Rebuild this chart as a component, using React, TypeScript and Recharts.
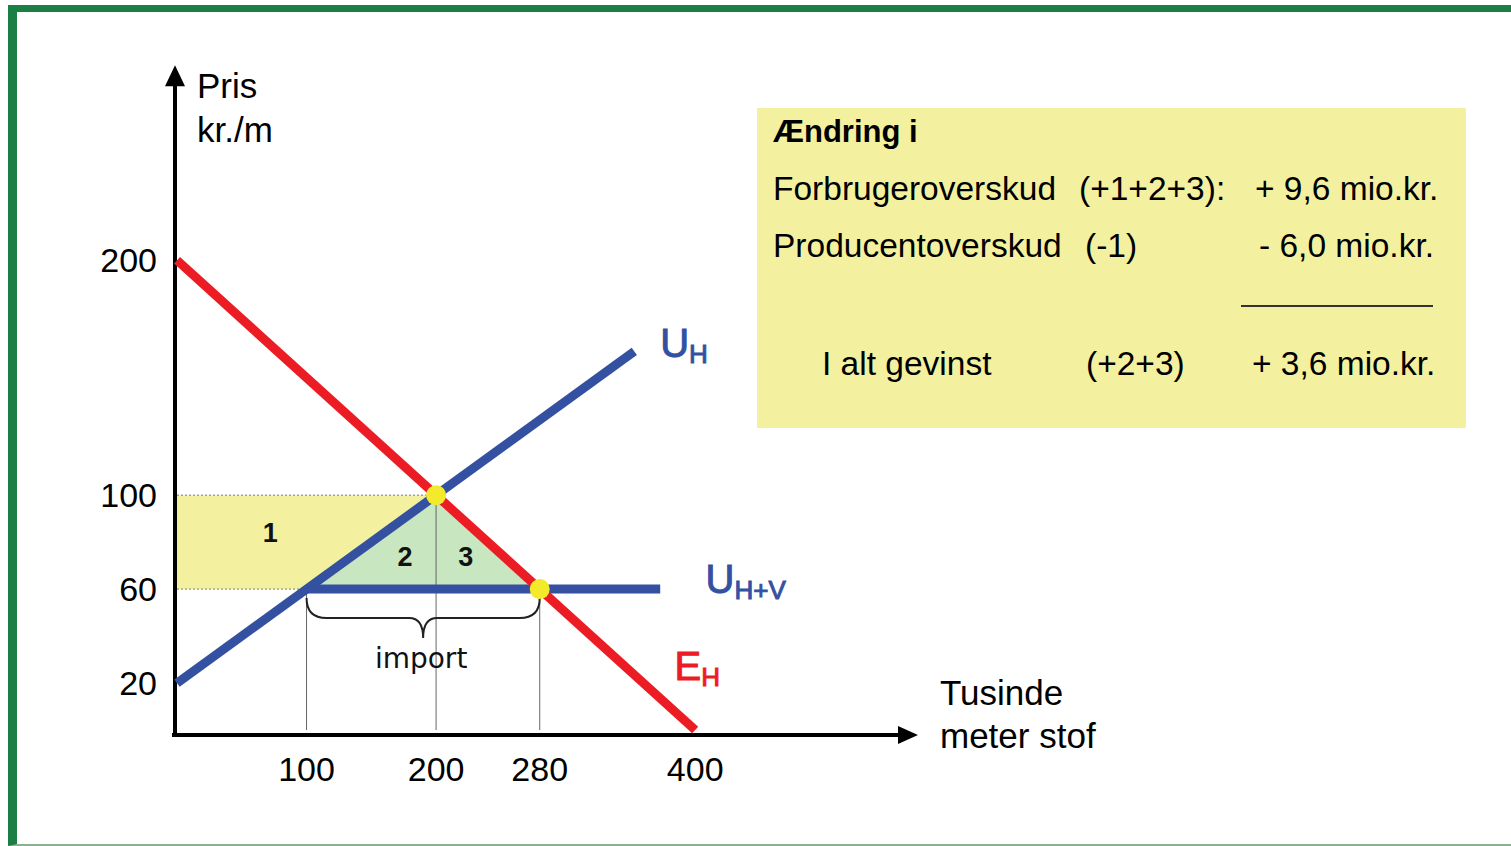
import React from "react";
import { ComposedChart, XAxis, YAxis, Line, Area, Scatter, ReferenceLine, ReferenceDot } from "recharts";

const FONT = '"Liberation Sans", Arial, Helvetica, sans-serif';
const RED = "#ec1c24";
const BLUE = "#3451a1";
const YELLOW_FILL = "#f3f19f";
const GREEN_FILL = "#c8e6c0";
const DOT_YELLOW = "#f2ea2a";
const FRAME_GREEN = "#1b7e44";

// axes
const xTicks = [100, 200, 280, 400];
const yTicks = [20, 60, 100, 200];
const xMax = 572;
const yMax = 284;
const xAxisEnd = 572;
const yAxisEnd = 283;

// curves (q = tusinde meter, p = kr./m)
const demandEH = [{ q: 0, p: 200 }, { q: 400, p: 0 }];
const supplyUH = [{ q: 0, p: 20 }, { q: 353, p: 161.2 }];
const supplyUHV = [{ q: 100, p: 60 }, { q: 373, p: 60 }];

// shaded areas [low, high]
const area1 = [
  { q: 0, band: [60, 100] },
  { q: 100, band: [60, 100] },
  { q: 200, band: [100, 100] },
];
const area23 = [
  { q: 100, band: [60, 60] },
  { q: 200, band: [60, 100] },
  { q: 280, band: [60, 60] },
];

const equilibria = [{ q: 200, p: 100 }, { q: 280, p: 60 }];
const importRange = [{ q: 100, p: 60 }, { q: 280, p: 60 }];
const hGuides = [{ q: 200, p: 100 }, { q: 100, p: 60 }];
const vGuides = [{ q: 100, p: 60 }, { q: 200, p: 100 }, { q: 280, p: 60 }];

const areaLabels = [
  { q: 72, p: 84, text: "1" },
  { q: 176, p: 74, text: "2" },
  { q: 223, p: 74, text: "3" },
];
const curveLabels = [
  { q: 373, p: 158.8, main: "U", sub: "H", color: BLUE },
  { q: 408, p: 58.3, main: "U", sub: "H+V", color: BLUE },
  { q: 384, p: 21.3, main: "E", sub: "H", color: RED },
];

const summaryTitle = "Ændring i";
const summaryRows = [
  { label: "Forbrugeroverskud", refs: "(+1+2+3):", value: "+ 9,6 mio.kr." },
  { label: "Producentoverskud", refs: "(-1)", value: "- 6,0 mio.kr." },
  { label: "I alt gevinst", refs: "(+2+3)", value: "+ 3,6 mio.kr." },
];

const XArrow = (props: any) => {
  const { x1, y1, x2 } = props;
  const y = y1 + 5;
  return (
    <g>
      <line x1={x1 - 5} y1={y} x2={x2 - 16} y2={y} stroke="#000" strokeWidth={4} />
      <polygon points={`${x2},${y} ${x2 - 20},${y - 9} ${x2 - 20},${y + 9}`} fill="#000" />
    </g>
  );
};

const YArrow = (props: any) => {
  const { x1, y1, y2 } = props;
  const x = x1 - 2;
  return (
    <g>
      <line x1={x} y1={y1 + 7} x2={x} y2={y2 + 16} stroke="#000" strokeWidth={4} />
      <polygon points={`${x},${y2} ${x - 10},${y2 + 21} ${x + 10},${y2 + 21}`} fill="#000" />
    </g>
  );
};

const Brace = (props: any) => {
  const { x1, y1, x2 } = props;
  const top = y1 + 9;
  const mid = (x1 + x2) / 2;
  const d = [
    `M ${x1} ${top}`,
    `Q ${x1} ${top + 20} ${x1 + 20} ${top + 20}`,
    `L ${mid - 14} ${top + 20}`,
    `Q ${mid} ${top + 20} ${mid} ${top + 40}`,
    `Q ${mid} ${top + 20} ${mid + 14} ${top + 20}`,
    `L ${x2 - 20} ${top + 20}`,
    `Q ${x2} ${top + 20} ${x2} ${top}`,
  ].join(" ");
  return (
    <g>
      <path d={d} fill="none" stroke="#222" strokeWidth={2} />
      <text x={mid - 2} y={top + 70} textAnchor="middle" fontFamily='"DejaVu Sans", Verdana, sans-serif' fontSize={28} fill="#111">
        import
      </text>
    </g>
  );
};

const axisTitle: React.CSSProperties = {
  position: "absolute",
  fontFamily: FONT,
  fontSize: 35,
  lineHeight: "35px",
  color: "#000",
  whiteSpace: "nowrap",
};

const boxText: React.CSSProperties = {
  position: "absolute",
  fontFamily: FONT,
  fontSize: 33.5,
  lineHeight: "33px",
  color: "#000",
  whiteSpace: "nowrap",
};

export default function App() {
  const rowTops = [172, 229, 347];
  const labelLeft = [16, 16, 65];
  const refLeft = [322, 328, 329];
  const valueLeft = [498, 502, 495];
  return (
    <div style={{ position: "absolute", left: 0, top: 0, width: 1511, height: 846, overflow: "hidden", background: "#fff" }}>
      <div
        style={{
          position: "absolute",
          left: 8,
          top: 5,
          width: 1503,
          height: 841,
          boxSizing: "border-box",
          borderLeft: `9px solid ${FRAME_GREEN}`,
          borderTop: `7px solid ${FRAME_GREEN}`,
          borderBottom: "2px solid #86b392",
        }}
      />
      <div style={{ position: "absolute", left: 0, top: 0 }}>
        <ComposedChart width={1000} height={846} margin={{ top: 63, right: 82, bottom: 56, left: 0 }}>
          <XAxis
            dataKey="q"
            type="number"
            domain={[0, xMax]}
            ticks={xTicks}
            interval={0}
            height={60}
            axisLine={false}
            tickLine={false}
            tickSize={0}
            tickMargin={27}
            tick={{ fontSize: 34, fill: "#000", fontFamily: FONT }}
          />
          <YAxis
            type="number"
            domain={[0, yMax]}
            ticks={yTicks}
            interval={0}
            width={177}
            axisLine={false}
            tickLine={false}
            tickSize={0}
            tickMargin={20}
            tick={{ fontSize: 34, fill: "#000", fontFamily: FONT }}
          />
          <Area data={area1} dataKey="band" type="linear" stroke="none" fill={YELLOW_FILL} fillOpacity={1} isAnimationActive={false} />
          <Area data={area23} dataKey="band" type="linear" stroke="none" fill={GREEN_FILL} fillOpacity={1} isAnimationActive={false} />
          {hGuides.map((g, i) => (
            <ReferenceLine
              key={`h${i}`}
              segment={[{ x: 0, y: g.p }, { x: g.q, y: g.p }]}
              stroke="#777"
              strokeWidth={1}
              strokeDasharray="2 2"
              ifOverflow="visible"
            />
          ))}
          {vGuides.map((g, i) => (
            <ReferenceLine
              key={`v${i}`}
              segment={[{ x: g.q, y: 0 }, { x: g.q, y: g.p }]}
              stroke="#666"
              strokeWidth={1}
              ifOverflow="visible"
            />
          ))}
          <ReferenceLine segment={[{ x: importRange[0].q, y: importRange[0].p }, { x: importRange[1].q, y: importRange[1].p }]} shape={<Brace />} ifOverflow="visible" />
          <ReferenceLine segment={[{ x: 0, y: 0 }, { x: xAxisEnd, y: 0 }]} shape={<XArrow />} ifOverflow="visible" />
          <ReferenceLine segment={[{ x: 0, y: 0 }, { x: 0, y: yAxisEnd }]} shape={<YArrow />} ifOverflow="visible" />
          <Line data={supplyUHV} dataKey="p" type="linear" stroke={BLUE} strokeWidth={9} dot={false} isAnimationActive={false} />
          <Line data={supplyUH} dataKey="p" type="linear" stroke={BLUE} strokeWidth={9} dot={false} isAnimationActive={false} />
          <Line data={demandEH} dataKey="p" type="linear" stroke={RED} strokeWidth={9} dot={false} isAnimationActive={false} />
          <Scatter
            data={equilibria}
            dataKey="p"
            isAnimationActive={false}
            shape={(p: any) => <circle cx={p.cx} cy={p.cy} r={10} fill={DOT_YELLOW} />}
          />
          {areaLabels.map((l) => (
            <ReferenceDot
              key={l.text}
              x={l.q}
              y={l.p}
              r={0}
              ifOverflow="visible"
              shape={(p: any) => (
                <text x={p.cx} y={p.cy} dy="0.36em" textAnchor="middle" fontFamily={FONT} fontWeight="bold" fontSize={27} fill="#111">
                  {l.text}
                </text>
              )}
            />
          ))}
          {curveLabels.map((l) => (
            <ReferenceDot
              key={l.main + l.sub}
              x={l.q}
              y={l.p}
              r={0}
              ifOverflow="visible"
              shape={(p: any) => (
                <text x={p.cx} y={p.cy} fontFamily={FONT} fill={l.color} stroke={l.color} strokeWidth={1}>
                  <tspan fontSize={40}>{l.main}</tspan>
                  <tspan fontSize={26} dy={6}>{l.sub}</tspan>
                </text>
              )}
            />
          ))}
        </ComposedChart>
      </div>

      <div style={{ ...axisTitle, left: 197, top: 68 }}>Pris</div>
      <div style={{ ...axisTitle, left: 197, top: 112 }}>kr./m</div>
      <div style={{ ...axisTitle, left: 940, top: 675 }}>Tusinde</div>
      <div style={{ ...axisTitle, left: 940, top: 718 }}>meter stof</div>

      <div style={{ position: "absolute", left: 757, top: 108, width: 709, height: 320, background: YELLOW_FILL }}>
        <div style={{ ...boxText, fontSize: 31, lineHeight: "31px", fontWeight: "bold", left: 16, top: 8 }}>{summaryTitle}</div>
        {summaryRows.map((r, i) => (
          <React.Fragment key={r.label}>
            <div style={{ ...boxText, left: labelLeft[i], top: rowTops[i] - 108 }}>{r.label}</div>
            <div style={{ ...boxText, left: refLeft[i], top: rowTops[i] - 108 }}>{r.refs}</div>
            <div style={{ ...boxText, left: valueLeft[i], top: rowTops[i] - 108 }}>{r.value}</div>
          </React.Fragment>
        ))}
        <div style={{ position: "absolute", left: 484, top: 197, width: 192, height: 2, background: "#333" }} />
      </div>
    </div>
  );
}
